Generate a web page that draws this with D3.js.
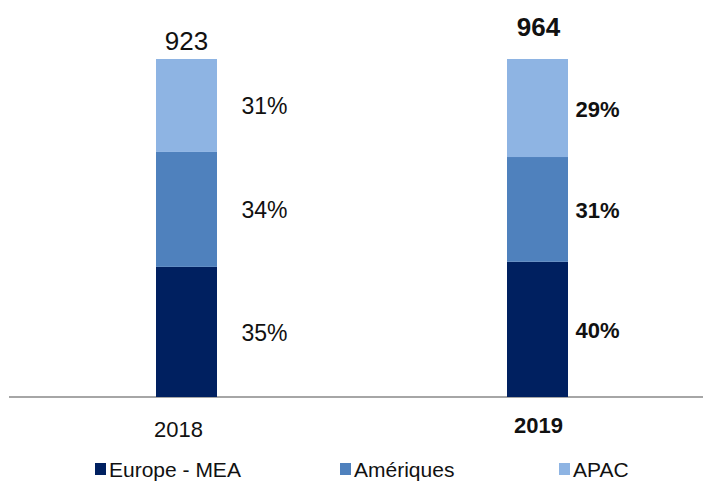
<!DOCTYPE html>
<html>
<head>
<meta charset="utf-8">
<script src="https://cdn.jsdelivr.net/npm/d3@7"></script>
<style>
  html, body { margin: 0; padding: 0; background: #fff; }
  svg { display: block; font-family: 'Liberation Sans', Arial, sans-serif; }
</style>
</head>
<body>
<div id="chart"></div>
<script>
// data
const years = ['2018', '2019']
const totals = [923, 964]
const regions = ['Europe - MEA', 'Amériques', 'APAC']
// drawn share of each segment (bottom -> top)
const europe = [38.5, 40]
const ameriques = [34, 31]
const apac = [27.5, 29]
// printed labels
const europeLabels = ['35%', '40%']
const ameriquesLabels = ['34%', '31%']
const apacLabels = ['31%', '29%']
const boldYear = [false, true]

const colors = ['#002060', '#4f81bd', '#8eb4e3']

const width = 703
const height = 486

const svg = d3.select('#chart')
  .append('svg')
  .attr('width', width)
  .attr('height', height)

const x = d3.scalePoint().domain(years).range([186.5, 537.5])
const y = d3.scaleLinear().domain([0, 100]).range([397, 59])
const barWidth = 61

const rows = years.map((yr, i) => ({
  year: yr,
  total: totals[i],
  bold: boldYear[i],
  'Europe - MEA': europe[i],
  'Amériques': ameriques[i],
  'APAC': apac[i],
  labels: [europeLabels[i], ameriquesLabels[i], apacLabels[i]]
}))

const stack = d3.stack().keys(regions)
const series = stack(rows)

// baseline
svg.append('line')
  .attr('x1', 9).attr('x2', width)
  .attr('y1', y(0)).attr('y2', y(0))
  .attr('stroke', '#a6a6a6')
  .attr('stroke-width', 2)

const layers = svg.append('g').attr('class', 'bars')
  .selectAll('g')
  .data(series)
  .join('g')
  .attr('fill', (d, i) => colors[i])

layers.selectAll('rect')
  .data(d => d)
  .join('rect')
  .attr('x', d => x(d.data.year) - barWidth / 2)
  .attr('width', barWidth)
  .attr('y', d => y(d[1]))
  .attr('height', d => y(d[0]) - y(d[1]))

// percentage labels next to each segment
const labelOffset = { '2018': 55, '2019': 38 }
series.forEach((s, k) => {
  svg.append('g')
    .selectAll('text')
    .data(s)
    .join('text')
    .attr('x', d => x(d.data.year) + labelOffset[d.data.year])
    .attr('y', d => (y(d[0]) + y(d[1])) / 2 + 1)
    .attr('dominant-baseline', 'central')
    .attr('font-size', d => d.data.bold ? 22 : 23)
    .attr('font-weight', d => d.data.bold ? 'bold' : 'normal')
    .attr('fill', '#111')
    .text(d => d.data.labels[k])
})

// totals on top
const totalY = { '2018': 50, '2019': 36 }
svg.append('g')
  .selectAll('text')
  .data(rows)
  .join('text')
  .attr('x', d => x(d.year) + (d.bold ? 1 : 0))
  .attr('y', d => totalY[d.year])
  .attr('text-anchor', 'middle')
  .attr('font-size', 26)
  .attr('font-weight', d => d.bold ? 'bold' : 'normal')
  .attr('fill', '#111')
  .text(d => d.total)

// category labels
const catDx = { '2018': -8, '2019': 1 }
const catY = { '2018': 437, '2019': 433 }
svg.append('g')
  .selectAll('text')
  .data(rows)
  .join('text')
  .attr('x', d => x(d.year) + catDx[d.year])
  .attr('y', d => catY[d.year])
  .attr('text-anchor', 'middle')
  .attr('font-size', 22)
  .attr('font-weight', d => d.bold ? 'bold' : 'normal')
  .attr('fill', '#111')
  .text(d => d.year)

// legend
const legendX = [95, 340, 559]
const legend = svg.append('g')
  .selectAll('g')
  .data(regions)
  .join('g')
  .attr('transform', (d, i) => `translate(${legendX[i]},463)`)

legend.append('rect')
  .attr('width', 11)
  .attr('height', 12)
  .attr('fill', (d, i) => colors[i])

legend.append('text')
  .attr('x', 14)
  .attr('y', 14)
  .attr('font-size', 21)
  .attr('fill', '#111')
  .text(d => d)
</script>
</body>
</html>
